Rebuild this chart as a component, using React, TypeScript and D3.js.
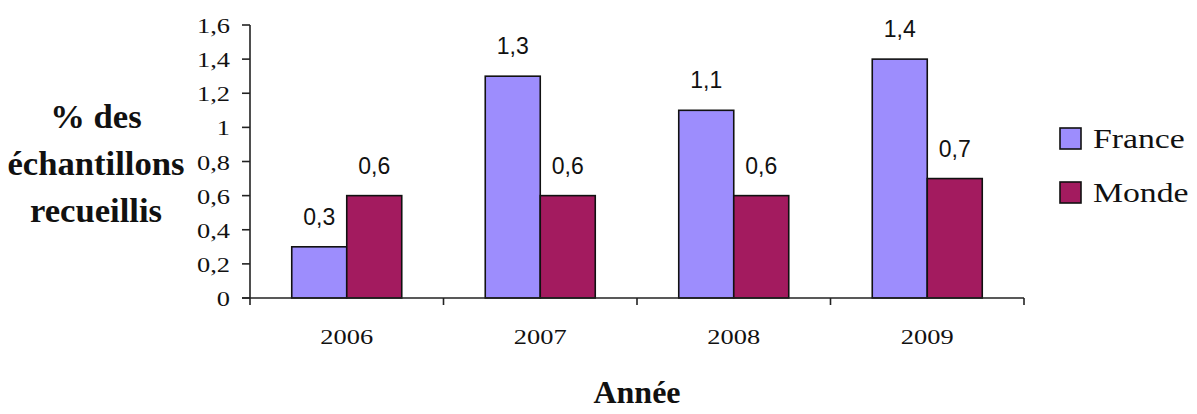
import React from "react";
import * as d3 from "d3";

const years = ["2006", "2007", "2008", "2009"];
const france = [0.3, 1.3, 1.1, 1.4];
const monde = [0.6, 0.6, 0.6, 0.7];
const seriesNames = ["France", "Monde"];
const seriesColors = ["#9d8dfd", "#a31b5f"];
const yTicks = [0, 0.2, 0.4, 0.6, 0.8, 1, 1.2, 1.4, 1.6];
const yTitle = ["% des", "échantillons", "recueillis"];
const xTitle = "Année";

const W = 1197;
const H = 414;
const left = 250;
const right = 1024;
const top = 25;
const bottom = 298;

const fmt = (v: number) => String(+v.toFixed(1)).replace(".", ",");
const serif = "'Liberation Serif', 'Times New Roman', serif";
const sans = "'Liberation Sans', Arial, sans-serif";

function T(props: {
  x: number;
  y: number;
  sx?: number;
  size: number;
  anchor?: string;
  bold?: boolean;
  family?: string;
  children: React.ReactNode;
}) {
  const { x, y, sx = 1, size, anchor = "start", bold = false, family = serif, children } = props;
  return (
    <g transform={`translate(${x},${y}) scale(${sx},1)`}>
      <text
        x={0}
        y={0}
        textAnchor={anchor as any}
        fontFamily={family}
        fontWeight={bold ? "bold" : "normal"}
        fontSize={size}
        fill="#111"
      >
        {children}
      </text>
    </g>
  );
}

export default function App() {
  const x = d3.scaleBand<string>().domain(years).range([left, right]).paddingInner(0).paddingOuter(0);
  const bw = x.bandwidth();
  const inner = d3.scaleBand<string>().domain(seriesNames).range([0, 110]);
  const y = d3.scaleLinear().domain([0, 1.6]).range([bottom, top]);
  const data = [france, monde];
  return (
    <svg width={W} height={H} style={{ position: "absolute", left: 0, top: 0 }}>
      <rect width={W} height={H} fill="#fff" />
      {/* bars */}
      {data.map((vals, si) =>
        vals.map((v, i) => {
          const bx = (x(years[i]) as number) + (bw - 110) / 2 + (inner(seriesNames[si]) as number);
          return (
            <g key={`${si}-${i}`}>
              <rect
                x={bx}
                y={y(v)}
                width={inner.bandwidth()}
                height={y(0) - y(v)}
                fill={seriesColors[si]}
                stroke="#111"
                strokeWidth={1.6}
              />
              <T x={bx + inner.bandwidth() / 2} y={y(v) - 22} size={23} anchor="middle" family={sans}>
                {fmt(v)}
              </T>
            </g>
          );
        })
      )}
      {/* y axis */}
      <line x1={left} x2={left} y1={top} y2={bottom + 7} stroke="#222" strokeWidth={1.6} />
      {yTicks.map((t) => (
        <g key={t}>
          <line x1={left - 8} x2={left} y1={y(t)} y2={y(t)} stroke="#222" strokeWidth={1.6} />
          <T x={left - 20} y={y(t) + 8} size={22} sx={1.2} anchor="end">
            {fmt(t)}
          </T>
        </g>
      ))}
      {/* x axis */}
      <line x1={left - 8} x2={right} y1={bottom} y2={bottom} stroke="#222" strokeWidth={1.6} />
      {years.map((yr) => (
        <g key={yr}>
          <line
            x1={(x(yr) as number) + bw}
            x2={(x(yr) as number) + bw}
            y1={bottom}
            y2={bottom + 7}
            stroke="#222"
            strokeWidth={1.6}
          />
          <T x={(x(yr) as number) + bw / 2} y={bottom + 46} size={22} sx={1.2} anchor="middle">
            {yr}
          </T>
        </g>
      ))}
      {/* y title */}
      {yTitle.map((line, i) => (
        <T key={line} x={96} y={128 + i * 47} size={33} sx={1.05} anchor="middle" bold>
          {line}
        </T>
      ))}
      {/* x title */}
      <T x={(left + right) / 2} y={403} size={32} anchor="middle" bold>
        {xTitle}
      </T>
      {/* legend */}
      {seriesNames.map((n, i) => (
        <g key={n}>
          <rect x={1060} y={128 + i * 54} width={21} height={21} fill={seriesColors[i]} stroke="#111" strokeWidth={1.6} />
          <T x={1093} y={148 + i * 54} size={27} sx={1.25}>
            {n}
          </T>
        </g>
      ))}
    </svg>
  );
}
